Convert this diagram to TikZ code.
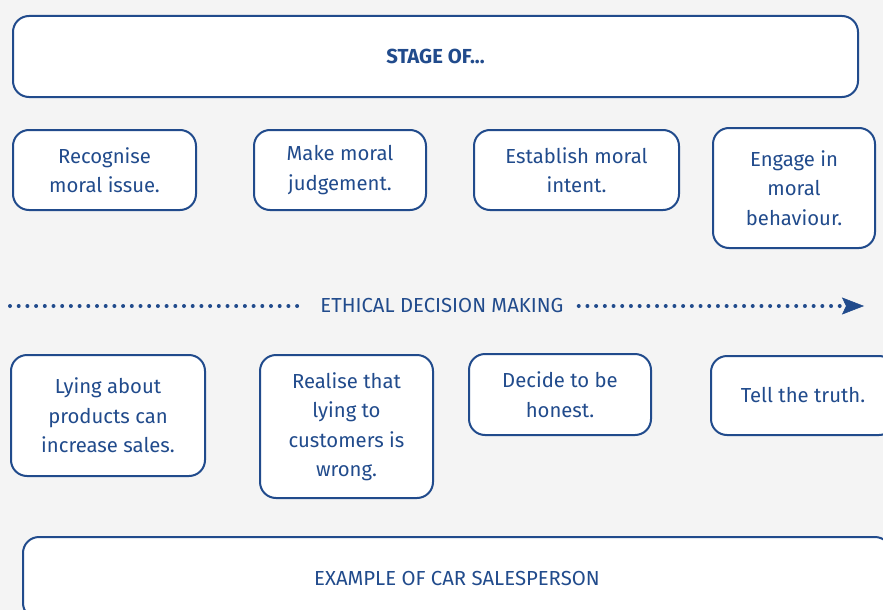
\documentclass[tikz,border=0pt]{standalone}
\usepackage{fontspec}
\setmainfont{Fira Sans}
\usetikzlibrary{arrows.meta}
\definecolor{boxline}{HTML}{214B8C}
\definecolor{boxfill}{HTML}{FFFFFF}
\definecolor{pagefill}{HTML}{F4F4F4}
\tikzset{
  stagebox/.style = {rectangle, rounded corners=16pt, draw=boxline, fill=boxfill,
                     line width=2pt, align=center, text=boxline,
                     font=\fontsize{20.3}{29.5}\selectfont, inner sep=0pt},
  headbox/.style  = {stagebox, font=\fontsize{20.3}{29.5}\selectfont\bfseries},
  axislbl/.style  = {text=boxline, font=\fontsize{20.3}{29.5}\selectfont, inner sep=15pt},
  dotline/.style  = {line width=4pt, draw=boxline, line cap=round,
                     dash pattern=on 0pt off 8.7pt},
}
\begin{document}
\begin{tikzpicture}[x=1pt, y=-1pt]
        \fill[pagefill] (0,0) rectangle (883,610);
        \useasboundingbox (0,0) rectangle (883,610);
        \node[headbox,  minimum width=845pt, minimum height=81pt]  (head) at (435.5,56.5) {STAGE OF...};
        % stages
        \node[stagebox, minimum width=183pt, minimum height=80pt]  (rec)  at (104.5,170) {Recognise\\moral issue.};
        \node[stagebox, minimum width=172pt, minimum height=80pt]  (jud)  at (340,170)   {Make moral\\judgement.};
        \node[stagebox, minimum width=205pt, minimum height=80pt]  (int)  at (576.5,170) {Establish moral\\intent.};
        \node[stagebox, minimum width=162pt, minimum height=120pt] (beh)  at (794,188)   {Engage in\\moral\\behaviour.};
        % arrow
        \coordinate (ax0) at (10,306);
        \coordinate (ax1) at (864,306);
        \node[axislbl] (axis) at (442,306) {ETHICAL DECISION MAKING};
        \draw[dotline, shorten >=5pt] (ax0) -- (axis.west);
        \draw[dotline, -{Stealth[length=22pt, width=17pt, inset=4pt, line width=0.5pt]}] (axis.east) -- (ax1);
        % example
        \node[stagebox, minimum width=194pt, minimum height=121pt] (lie)  at (108,415.5)   {Lying about\\products can\\increase sales.};
        \node[stagebox, minimum width=173pt, minimum height=143pt] (wrg)  at (346.5,426.5) {Realise that\\lying to\\customers is\\wrong.};
        \node[stagebox, minimum width=182pt, minimum height=81pt]  (hon)  at (560,394.5)   {Decide to be\\honest.};
        \node[stagebox, minimum width=184pt, minimum height=79pt]  (tru)  at (803,395.5)   {Tell the truth.};
        \node[stagebox, minimum width=868pt, minimum height=82pt]  (foot) at (457,578)     {EXAMPLE OF CAR SALESPERSON};
    \end{tikzpicture}
\end{document}
